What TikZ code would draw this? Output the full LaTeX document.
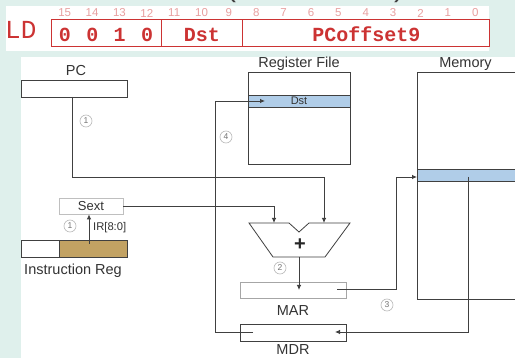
\documentclass[tikz,border=0pt]{standalone}
\usepackage{fontspec}
\setmainfont{Liberation Sans}
\newfontfamily\monofont{Liberation Mono}
\usetikzlibrary{arrows.meta,calc}
\definecolor{bgc}{HTML}{DFF0EC}
\definecolor{ldred}{HTML}{CC3333}
\definecolor{bitred}{HTML}{E8A0A0}
\definecolor{wirec}{HTML}{404040}
\definecolor{bandc}{HTML}{B0CDE8}
\definecolor{tanc}{HTML}{C2A263}
\begin{document}
\begin{tikzpicture}[x=1pt,y=-1pt,
  wire/.style={draw=wirec, line width=0.8pt},
  arr/.style={wire, -{Latex[length=5pt,width=4.5pt]}},
  box/.style={draw=wirec, line width=0.8pt, fill=white, inner sep=0},
  lbl/.style={font=\fontsize{14.5}{16}\selectfont, text=black!80, inner sep=0},
  numc/.style={circle, draw=gray!55, line width=0.6pt, minimum size=12pt, inner sep=0, font=\fontsize{8.5}{9}\selectfont, text=gray!90!black},
  field/.style={draw=ldred, line width=1pt, minimum height=27pt, inner sep=0},
  fieldtxt/.style={inner sep=0, anchor=base, text=ldred, font=\monofont\bfseries\fontsize{20}{20}\selectfont},
  bitnum/.style={inner sep=0, text=bitred, font=\fontsize{11.5}{12}\selectfont}
]
\useasboundingbox (0,0) rectangle (515,358);
\clip (0,0) rectangle (515,358);
\fill[bgc] (0,0) rectangle (515,358);
\fill[white] (6,6) rectangle (489,51);
\fill[white] (21,57) rectangle (515,358);

% title fragments
\node[font=\fontsize{30}{30}\selectfont, text=black!75, anchor=base, inner sep=0] (lp) at (231,-3) {(};
\node[font=\fontsize{30}{30}\selectfont, text=black!75, anchor=base, inner sep=0] (rp) at (399,-3) {)};

% instruction format
\node[inner sep=0, anchor=base west, text=ldred, font=\monofont\fontsize{26}{26}\selectfont] (ld) at (5,38.5) {LD};
\node[field, minimum width=110pt] (opf) at (106,33.5) {};
\node[field, minimum width=81pt] (dstf) at (201.5,33.5) {};
\node[field, minimum width=247pt] (offf) at (365.5,33.5) {};
\node[fieldtxt] (optxt) at (106,42) {0\ \hspace{3.4pt}0\ \hspace{3.4pt}1\ \hspace{3.4pt}0};
\node[fieldtxt] (dsttxt) at (202,42) {Dst};
\node[fieldtxt] (offtxt) at (366.5,42) {PCoffset9};
\foreach \i in {0,...,15} {
  \node[bitnum] (b\i) at ({51+(15-\i+0.5)*27.375},13) {\i};
}

% PC
\node[box, minimum width=106pt, minimum height=17pt] (pc) at (74,88.5) {};
\node[lbl, anchor=base] (pclbl) at (76,75.5) {PC};

% Register file
\node[box, minimum width=102pt, minimum height=92pt] (rf) at (299,118) {};
\node[draw=wirec, line width=0.6pt, fill=bandc, minimum width=102pt, minimum height=12pt, inner sep=0, font=\fontsize{11}{12}\selectfont, text=black!80] (dst) at (299,101) {Dst};
\node[lbl, anchor=base] (rflbl) at (299,67.5) {Register File};

% Memory
\node[box, minimum width=113pt, minimum height=227pt] (mem) at (473.5,185.5) {};
\node[draw=wirec, line width=0.6pt, fill=bandc, minimum width=113pt, minimum height=12pt, inner sep=0] (memband) at (473.5,175) {};
\node[lbl, anchor=base] (memlbl) at (465.5,67.5) {Memory};

% ALU
\coordinate (aluL) at (274,223);
\coordinate (aluR) at (324,223);
\coordinate (aluO) at (299,257);
\draw[wire, line join=miter] (249,223) -- (289,223) -- (299,232) -- (309,223) -- (350,223) -- (325,257) -- (273,257) -- cycle;
\node[inner sep=0, font=\bfseries\fontsize{20}{20}\selectfont, text=black!85] (plus) at (300,245) {+};

% MAR, MDR
\node[box, draw=gray!70, minimum width=106pt, minimum height=16pt] (mar) at (293,290) {};
\node[lbl, anchor=base] (marlbl) at (293,316) {MAR};
\node[box, minimum width=106pt, minimum height=17pt] (mdr) at (293,332.5) {};
\node[lbl, anchor=base] (mdrlbl) at (293,355) {MDR};

% Sext and IR
\node[box, draw=gray!50, minimum width=64pt, minimum height=16pt, font=\fontsize{13}{14}\selectfont, text=black!80] (sext) at (91,206) {Sext};
\node[box, minimum width=106pt, minimum height=17pt] (ir) at (74,248.5) {};
\node[draw=wirec, line width=0.8pt, fill=tanc, minimum width=68pt, minimum height=17pt, inner sep=0] (irf) at (93,248.5) {};
\node[lbl, anchor=base] (irlbl) at (73,274.5) {Instruction Reg};
\node[inner sep=0, anchor=west, font=\fontsize{11.2}{12}\selectfont, text=black!80] (irbits) at (93,228) {IR[8:0]};

% step numbers
\node[numc] (n1a) at (86,121) {1};
\node[numc] (n1b) at (70,226) {1};
\node[numc] (n2) at (280,268) {2};
\node[numc] (n3) at (387,305) {3};
\node[numc] (n4) at (226,137) {4};

% wires
\coordinate (pcout) at (72,97);
\coordinate (pcbend) at (324,177);
\draw[arr] (pcout) |- (pcbend) -- (aluR);
\draw[arr] (sext.east) -| (aluL);
\coordinate (irtap) at (89,244);
\draw[arr] (irtap) -- (irtap |- sext.south);
\draw[arr] (aluO) -- (aluO |- mar.center);
\coordinate (marout) at (337,289);
\coordinate (mbend) at (396,289);
\coordinate (memin) at (417,177);
\draw[arr] (marout) -- (mbend) |- (memin);
\coordinate (memout) at (468,177);
\coordinate (mdrin) at (335,332);
\draw[arr] (memout) |- (mdrin);
\coordinate (mdrout) at (253,332);
\coordinate (rfbend) at (215,332);
\coordinate (rfin) at (265,101);
\draw[arr] (mdrout) -- (rfbend) |- (rfin);
\end{tikzpicture}
\end{document}
